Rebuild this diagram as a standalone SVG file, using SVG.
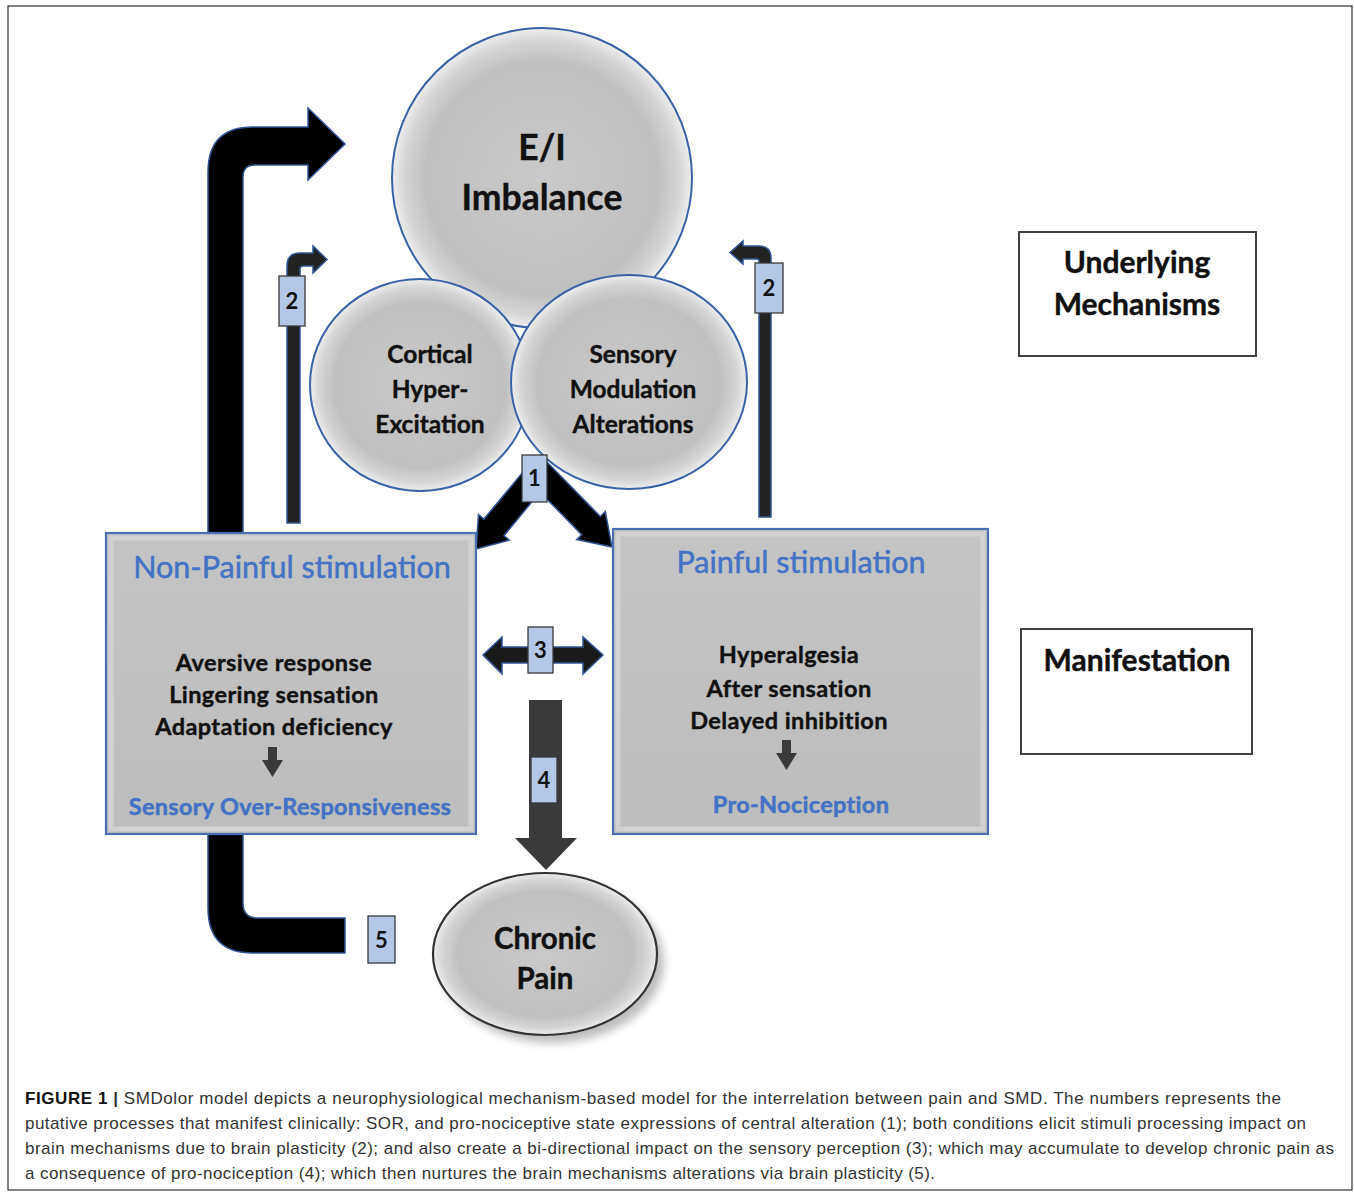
<svg xmlns="http://www.w3.org/2000/svg" width="1354" height="1193" viewBox="0 0 1354 1193">
<defs>
<radialGradient id="ball" cx="50%" cy="50%" r="50%">
<stop offset="0" stop-color="#c9c9c9"/>
<stop offset="0.78" stop-color="#c0c0c0"/>
<stop offset="0.92" stop-color="#d6d6d6"/>
<stop offset="1" stop-color="#eeeeee"/>
</radialGradient>
<linearGradient id="boxg" x1="0" y1="0" x2="0" y2="1">
<stop offset="0" stop-color="#c4c4c4"/>
<stop offset="1" stop-color="#bdbdbd"/>
</linearGradient>
<filter id="shadow" x="-20%" y="-20%" width="150%" height="150%">
<feGaussianBlur stdDeviation="4"/>
</filter>
<style>
.frame{fill:#fff;stroke:#333;stroke-width:1.2}
.ball{fill:url(#ball);stroke:#3a62a7;stroke-width:2}
.box{fill:url(#boxg);stroke:#4a6fb5;stroke-width:2.2}
.bevel{fill:none;stroke:#d2d2d2;stroke-width:5}
.plain{fill:#fff;stroke:#404040;stroke-width:2}
.num{fill:#b4c7e7;stroke:#3a3a3a;stroke-width:1.3}
.blk{fill:#000;stroke:#2f5597;stroke-width:1.5}
.dk{fill:#3a3a3a}
.t{font-family:Lato,"Open Sans","DejaVu Sans",sans-serif;font-weight:bold;fill:#111;stroke:#111;stroke-width:0.4;text-anchor:middle}
.blue{font-family:Lato,"Open Sans","DejaVu Sans",sans-serif;fill:#4472c4;stroke:#4472c4;stroke-width:0.5;text-anchor:middle}
.n{font-family:Lato,"DejaVu Sans",sans-serif;font-weight:bold;font-size:22px;fill:#111;text-anchor:middle}
.cap{font-family:"Liberation Sans",Arial,sans-serif;font-size:17px;fill:#333}
</style>
</defs>
<rect class="frame" x="8" y="6" width="1344" height="1184"/>

<g id="connectors">
<path id="arrow-big-up" class="blk" d="M208,533 L208,172 Q208,127 253,127 L308,127 L308,108 L345,144 L308,180 L308,165 L255,165 Q243,165 243,177 L243,533 Z"/>
<path id="arrow-5" class="blk" d="M208,834 L208,908 Q208,953 253,953 L345,953 L345,918 L258,918 Q243,918 243,903 L243,834 Z"/>
<path id="arrow-2-left" class="blk" style="fill:#222" d="M287,523 L287,266 Q287,253 300,253 L313,253 L313,246 L327,259.5 L313,273 L313,266 L303,266 Q300,266 300,269 L300,523 Z"/>
<path id="arrow-2-right" class="blk" style="fill:#222" d="M771,517 L771,258 Q771,246 759,246 L743,246 L743,241 L730,252.5 L743,264 L743,259 L757,259 Q759,259 759,261 L759,517 Z"/>
<path id="arrow-3" class="blk" style="fill:#1a1a1a" d="M483,655 L502,637 L502,647 L583,647 L583,637 L603,655 L583,674 L583,663 L502,663 L502,674 Z"/>
<path id="arrow-4" class="dk" d="M529,700 L562,700 L562,838 L577,838 L546,870 L515,838 L529,838 Z"/>
</g>

<g id="node-ei">
<circle class="ball" cx="542" cy="178" r="150"/>
<text class="t" x="542" y="160" font-size="35.5">E/I</text>
<text class="t" x="542" y="210" font-size="35.5">Imbalance</text>
</g>
<g id="node-cortical">
<ellipse class="ball" cx="420" cy="385" rx="110" ry="106"/>
<text class="t" x="430" y="363" font-size="24.5">Cortical</text>
<text class="t" x="430" y="398" font-size="24.5">Hyper-</text>
<text class="t" x="430" y="433" font-size="24.5">Excitation</text>
</g>
<g id="node-sensory">
<ellipse class="ball" cx="629" cy="382" rx="118" ry="107"/>
<text class="t" x="633" y="363" font-size="24.5">Sensory</text>
<text class="t" x="633" y="398" font-size="24.5">Modulation</text>
<text class="t" x="633" y="433" font-size="24.5">Alterations</text>
</g>

<g id="arrow-1">
<path class="blk" d="M534.7,458 L543,458 L600.3,516.5 L605.3,511.6 L612,547 L576.7,539.6 L581.7,534.7 L540,492 L503.9,535.7 L509.3,540.2 L476,549 L478.5,514.6 L483.9,519.1 Z"/>
</g>

<g id="node-nonpainful">
<rect class="box" x="106" y="533" width="370" height="301"/>
<rect class="bevel" x="111" y="538" width="360" height="291"/>
<text class="blue" x="292" y="578" font-size="30.5">Non-Painful stimulation</text>
<text class="t" x="274" y="671" font-size="23.5" letter-spacing="0.4">Aversive response</text>
<text class="t" x="274" y="703" font-size="23.5" letter-spacing="0.4">Lingering sensation</text>
<text class="t" x="274" y="735" font-size="23.5" letter-spacing="0.4">Adaptation deficiency</text>
<path class="dk" d="M268,747 L277,747 L277,760 L283,760 L272.5,777 L262,760 L268,760 Z"/>
<text class="blue" x="290" y="815" font-size="23.5" font-weight="bold" letter-spacing="0.3">Sensory Over-Responsiveness</text>
</g>

<g id="node-painful">
<rect class="box" x="613" y="529" width="375" height="305"/>
<rect class="bevel" x="618" y="534" width="365" height="295"/>
<text class="blue" x="801" y="573" font-size="30.5">Painful stimulation</text>
<text class="t" x="789" y="663" font-size="23.5" letter-spacing="0.4">Hyperalgesia</text>
<text class="t" x="789" y="697" font-size="23.5" letter-spacing="0.4">After sensation</text>
<text class="t" x="789" y="729" font-size="23.5" letter-spacing="0.4">Delayed inhibition</text>
<path class="dk" d="M782,740 L791,740 L791,753 L797,753 L786.5,770 L776,753 L782,753 Z"/>
<text class="blue" x="801" y="813" font-size="23.5" font-weight="bold" letter-spacing="0.3">Pro-Nociception</text>
</g>

<g id="node-underlying">
<rect class="plain" x="1019" y="232" width="237" height="124"/>
<text class="t" x="1137" y="273" font-size="30">Underlying</text>
<text class="t" x="1137" y="315" font-size="30">Mechanisms</text>
</g>
<g id="node-manifestation">
<rect class="plain" x="1021" y="629" width="231" height="125"/>
<text class="t" x="1137" y="671" font-size="30">Manifestation</text>
</g>

<g id="node-chronic">
<ellipse cx="552" cy="962" rx="112" ry="81" fill="#888" opacity="0.55" filter="url(#shadow)"/>
<ellipse cx="545" cy="954" rx="112" ry="81" fill="url(#ball)" stroke="#333" stroke-width="2.2"/>
<text class="t" x="545" y="949" font-size="29.5">Chronic</text>
<text class="t" x="545" y="989" font-size="29.5">Pain</text>
</g>

<g id="labels">
<rect class="num" x="279" y="276" width="26" height="50"/><text class="n" x="292" y="309">2</text>
<rect class="num" x="755" y="263" width="28" height="50"/><text class="n" x="769" y="296">2</text>
<rect class="num" x="522" y="455" width="25" height="47"/><text class="n" x="534.5" y="486">1</text>
<rect class="num" x="528" y="627" width="25" height="46"/><text class="n" x="540.5" y="658">3</text>
<rect class="num" x="531" y="757" width="26" height="46"/><text class="n" x="544" y="788">4</text>
<rect class="num" x="368" y="916" width="27" height="47"/><text class="n" x="381.5" y="948">5</text>
</g>

<g id="caption">
<text class="cap" x="25" y="1104" textLength="1256" lengthAdjust="spacing"><tspan font-weight="bold" fill="#111">FIGURE 1</tspan> <tspan font-weight="bold">|</tspan> SMDolor model depicts a neurophysiological mechanism-based model for the interrelation between pain and SMD. The numbers represents the</text>
<text class="cap" x="25" y="1129" textLength="1281" lengthAdjust="spacing">putative processes that manifest clinically: SOR, and pro-nociceptive state expressions of central alteration (1); both conditions elicit stimuli processing impact on</text>
<text class="cap" x="25" y="1154" textLength="1309" lengthAdjust="spacing">brain mechanisms due to brain plasticity (2); and also create a bi-directional impact on the sensory perception (3); which may accumulate to develop chronic pain as</text>
<text class="cap" x="25" y="1179" textLength="910" lengthAdjust="spacing">a consequence of pro-nociception (4); which then nurtures the brain mechanisms alterations via brain plasticity (5).</text>
</g>
</svg>
